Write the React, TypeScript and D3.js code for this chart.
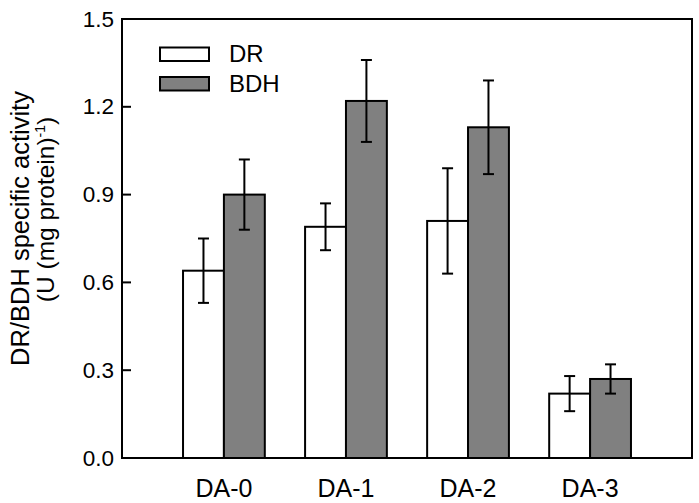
import React from "react";
import * as d3 from "d3";

const categories = ["DA-0", "DA-1", "DA-2", "DA-3"];
const seriesNames = ["DR", "BDH"];
const drValues = [0.64, 0.79, 0.81, 0.22];
const drErrors = [0.11, 0.08, 0.18, 0.06];
const bdhValues = [0.9, 1.22, 1.13, 0.27];
const bdhErrors = [0.12, 0.14, 0.16, 0.05];
const yTicks = [0.0, 0.3, 0.6, 0.9, 1.2, 1.5];
const seriesFill = ["#ffffff", "#808080"];

const W = 699, H = 503;
const left = 122, right = 692, top = 19, bottom = 458;

export default function App() {
  const x = d3.scaleBand<string>().domain(categories).range([left, right]).paddingInner(0.33).paddingOuter(0.5);
  const xs = d3.scaleBand<string>().domain(seriesNames).range([0, x.bandwidth()]);
  const y = d3.scaleLinear().domain([0, 1.5]).range([bottom, top]);
  const series = [
    { name: "DR", values: drValues, errors: drErrors },
    { name: "BDH", values: bdhValues, errors: bdhErrors },
  ];
  const font = "Liberation Sans, Arial, sans-serif";
  return (
    <svg width={W} height={H} style={{ position: "absolute", left: 0, top: 0 }} fontFamily={font}>
      <rect x={0} y={0} width={W} height={H} fill="#fff" />
      {series.map((s, si) =>
        categories.map((c, i) => {
          const x0 = (x(c) as number) + (xs(s.name) as number);
          const bw = xs.bandwidth();
          const cx = x0 + bw / 2;
          return (
            <g key={s.name + c}>
              <rect x={x0} y={y(s.values[i])} width={bw} height={y(0) - y(s.values[i])} fill={seriesFill[si]} stroke="#000" strokeWidth={2} />
              <line x1={cx} x2={cx} y1={y(s.values[i] - s.errors[i])} y2={y(s.values[i] + s.errors[i])} stroke="#000" strokeWidth={2} />
              <line x1={cx - 5.5} x2={cx + 5.5} y1={y(s.values[i] - s.errors[i])} y2={y(s.values[i] - s.errors[i])} stroke="#000" strokeWidth={2} />
              <line x1={cx - 5.5} x2={cx + 5.5} y1={y(s.values[i] + s.errors[i])} y2={y(s.values[i] + s.errors[i])} stroke="#000" strokeWidth={2} />
            </g>
          );
        })
      )}
      <rect x={left} y={top} width={right - left} height={bottom - top} fill="none" stroke="#000" strokeWidth={2} />
      {yTicks.map((t) => (
        <g key={t}>
          <line x1={left} x2={left + 9} y1={y(t)} y2={y(t)} stroke="#000" strokeWidth={2} />
          <text x={left - 8} y={y(t) + 7.5} textAnchor="end" fontSize={22.5} fill="#000">{t.toFixed(1)}</text>
        </g>
      ))}
      {categories.map((c) => (
        <text key={c} x={(x(c) as number) + x.bandwidth() / 2} y={497} textAnchor="middle" fontSize={25} fill="#000">{c}</text>
      ))}
      <text transform="translate(29,228.5) rotate(-90)" textAnchor="middle" fontSize={25.5} fill="#000">DR/BDH specific activity</text>
      <text transform="translate(54,209.5) rotate(-90)" textAnchor="middle" fontSize={24.5} fill="#000">
        (U (mg protein)<tspan dy={-9} fontSize={14}>-1</tspan><tspan dy={9}>)</tspan>
      </text>
      {seriesNames.map((n, i) => (
        <g key={n}>
          <rect x={160} y={47.5 + i * 29.5} width={49} height={13.5} fill={seriesFill[i]} stroke="#000" strokeWidth={2} />
          <text x={229} y={62 + i * 30} fontSize={24} fill="#000">{n}</text>
        </g>
      ))}
    </svg>
  );
}
